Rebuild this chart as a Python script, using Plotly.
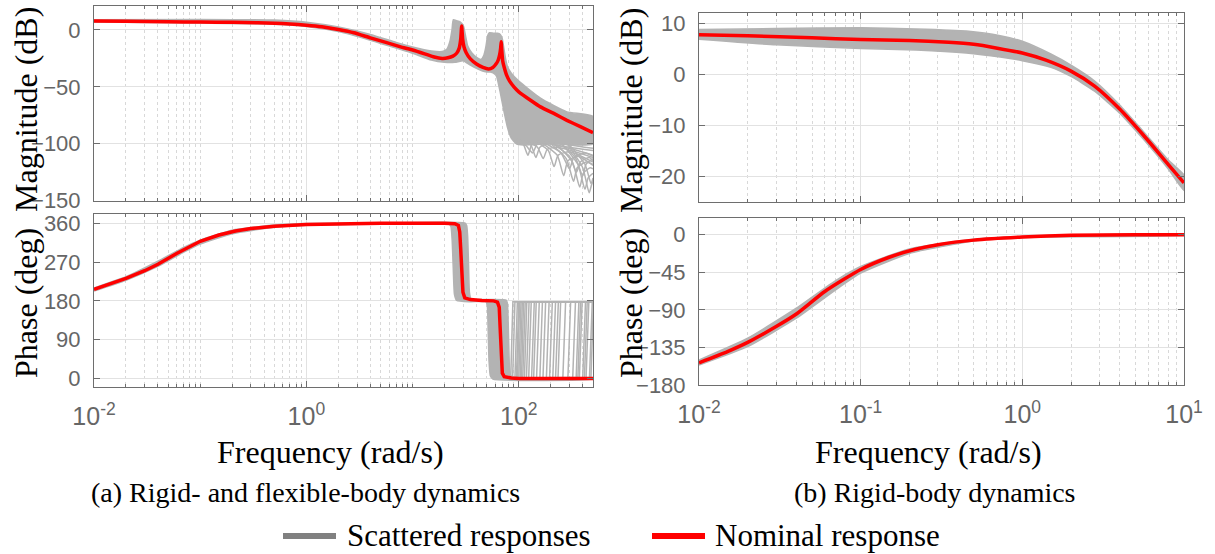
import math
import plotly.graph_objects as go

W, H = 1215, 554

# ---------------- data ----------------
# (a) rigid- and flexible-body dynamics : nominal response
a_nom_mag_f = [0.01, 0.02, 0.05, 0.1, 0.2, 0.35, 0.5, 0.7, 1.0, 1.4, 2.0, 2.8, 4.0, 5.6, 8.0,
               10, 13, 16, 19, 21.5, 24, 26, 27.5, 28.4, 29, 29.6, 30.5, 32, 35, 40, 46, 52,
               57, 61, 64, 66, 67.5, 68.3, 69.2, 70.5, 73, 77, 82, 90, 100, 130, 160, 220,
               284, 380, 500]
a_nom_mag = [7.8, 7.6, 7.2, 6.85, 6.65, 6.3, 5.9, 5.15, 4.2, 2.8, 0.4, -2.5, -7, -11, -15.3,
             -17.6, -21, -23.8, -25, -24.5, -23, -20.5, -16, -8, 3.5, -8, -15, -20, -25.5, -30,
             -33, -34.4, -33, -30, -26.5, -22, -16, -10.3, -18, -27, -33, -40, -45, -50, -54.4,
             -62, -67.6, -74, -79.4, -85, -90.2]
a_nom_ph_f = [0.01, 0.02, 0.03, 0.04, 0.06, 0.1, 0.15, 0.215, 0.3, 0.5, 1, 2, 5, 20, 25, 27,
              27.8, 28.4, 28.8, 29.2, 29.8, 31, 35, 45, 58, 63, 65.5, 66.7, 67.5, 68.5, 70,
              73, 85, 100, 500]
a_nom_ph = [206.6, 232, 250, 265, 290, 318.4, 333, 342.2, 348, 353.5, 357.2, 359.2, 360, 360,
            359, 355, 340, 300, 270, 230, 200, 187, 183, 181, 180, 177, 165, 120, 80, 35, 12,
            4, 1, 0, 0]

# (a) scattered responses: envelope of the dense band
a_sc_mag_up_f = [0.01, 0.1, 0.5, 1, 2, 4, 7, 10, 15, 19, 21, 22.5, 23.5, 24.2, 26, 28, 30,
                 31.5, 33, 36, 40, 44, 47, 49, 51, 53, 58, 63, 67, 70, 72, 75, 78, 85, 100,
                 160, 284, 500]
a_sc_mag_up = [9.0, 9.2, 8.6, 6.8, 2.5, -4, -11, -15, -18.5, -19, -17, -10, 0, 9, 8, 7, 4,
               -5, -14, -20, -24, -26, -22, -15, -5, -2.5, -3, -3, -4, -8, -15, -25, -32,
               -38, -45, -60, -72, -76]
a_sc_mag_lo_f = [0.01, 0.1, 0.5, 1, 2, 4, 7, 10, 15, 20, 25, 30, 35, 45, 50, 54, 60, 62, 67,
                 72, 78, 85, 95, 110, 200, 500]
a_sc_mag_lo = [7.0, 6.0, 5.0, 3.0, -1.5, -9, -16, -20.5, -26.5, -28.5, -28.5, -27, -31, -36,
               -37, -37, -39, -41, -55, -70, -85, -95, -100, -101, -100, -100]
# (a) scattered responses spreading below the band
a_fan_f = [
    [95, 110, 122, 132, 150, 250, 500],
    [110, 130, 145, 158, 190, 300, 500],
    [120, 150, 170, 185, 230, 500],
    [150, 190, 215, 235, 300, 500],
    [170, 230, 265, 290, 360, 500],
    [200, 280, 328, 355, 430, 500],
    [230, 320, 375, 405, 470, 500],
    [260, 360, 420, 450, 500],
    [290, 400, 460, 485, 500],
    [250, 340, 400, 430, 500],
    [300, 420, 480, 500],
    [180, 250, 300, 330, 420, 500],
    [100, 118, 135, 150, 200, 500],
    [210, 300, 350, 380, 460, 500],
]
a_fan_mag = [
    [-95, -100, -110, -101, -98, -102, -106],
    [-97, -101, -112, -103, -100, -104, -110],
    [-98, -103, -113, -105, -103, -112],
    [-99, -106, -120, -110, -107, -116],
    [-100, -110, -128, -115, -111, -119],
    [-100, -113, -133, -121, -116, -118],
    [-101, -116, -138, -126, -121, -122],
    [-101, -118, -140, -130, -126],
    [-101, -121, -143, -136, -133],
    [-100, -112, -128, -118, -113],
    [-101, -118, -135, -130],
    [-100, -108, -122, -112, -108, -111],
    [-96, -102, -108, -100, -99, -104],
    [-100, -111, -125, -116, -112, -115],
]
a_sc_ph_up_f = [0.01, 0.02, 0.04, 0.07, 0.1, 0.2, 0.5, 1, 5, 31, 32.3, 33, 33.6, 34.3, 35.5,
                45, 76, 78, 79.5, 81, 83, 90, 100, 500]
a_sc_ph_up = [210, 236, 272, 304, 321, 344, 356, 359.5, 361, 361, 355, 330, 270, 200, 184, 183,
              182, 175, 130, 50, 8, 1.5, 1, 1]
a_sc_ph_lo_f = [0.01, 0.02, 0.04, 0.07, 0.1, 0.2, 0.5, 1, 5, 22, 23, 23.6, 24.2, 24.8, 26, 35,
                49, 50.5, 51.5, 52.5, 54, 57, 500]
a_sc_ph_lo = [203, 228, 260, 293, 312, 336, 351, 355.5, 359, 359, 352, 320, 250, 195, 181, 178,
              178, 170, 110, 40, 6, -1.5, -1.5]
# (a) phase of scattered responses jumping back to 180 deg (start / end of each rise)
a_comb_lo = [84, 87.5, 92, 95, 97, 100, 103, 106, 109, 113, 118, 124, 132, 138, 147, 158, 169,
             182, 195, 209, 222, 234, 260, 290, 322, 347, 360, 372, 400, 415, 430, 463, 478]
a_comb_hi = [88, 92, 97, 100, 102, 105, 108, 111, 115, 119, 125, 131, 140, 146, 156, 167, 179,
             193, 207, 222, 236, 248, 276, 308, 342, 368, 382, 395, 425, 441, 457, 492, 505]

# (b) rigid-body dynamics
b_nom_mag_f = [0.01, 0.02, 0.05, 0.1, 0.2, 0.35, 0.5, 0.7, 1.0, 1.4, 2.0, 2.8, 4.0, 5.6, 8.0, 10]
b_nom_mag = [7.8, 7.6, 7.2, 6.85, 6.65, 6.3, 5.9, 5.15, 4.2, 2.8, 0.65, -2.3, -6.8, -11.9,
             -17.7, -21.3]
b_sc_mag_up_f = [0.01, 0.03, 0.1, 0.22, 0.45, 0.73, 1.0, 1.5, 2.0, 2.8, 4.0, 5.6, 8.0, 10]
b_sc_mag_up = [8.8, 9.0, 9.15, 8.9, 8.5, 7.6, 6.5, 4.0, 1.8, -1.3, -6.0, -11.2, -16.8, -19.8]
b_sc_mag_lo_f = [0.01, 0.03, 0.1, 0.22, 0.45, 0.73, 1.0, 1.5, 2.0, 2.8, 4.0, 5.6, 8.0, 10]
b_sc_mag_lo = [6.9, 5.8, 5.1, 4.8, 4.2, 3.4, 2.7, 1.4, -0.4, -3.3, -7.6, -12.7, -18.6, -22.8]
b_nom_ph_f = [0.01, 0.015, 0.02, 0.03, 0.04, 0.06, 0.1, 0.15, 0.215, 0.3, 0.5, 1, 2, 5, 10]
b_nom_ph = [-153.4, -140, -129, -110, -95, -68, -41.6, -27, -17.8, -12, -6.5, -2.8, -0.8, -0.1, 0]
b_sc_ph_up_f = [0.01, 0.02, 0.04, 0.07, 0.1, 0.2, 0.5, 1, 10]
b_sc_ph_up = [-150, -124, -88, -55, -38, -17, -5.5, -2.3, 0.5]
b_sc_ph_lo_f = [0.01, 0.02, 0.04, 0.07, 0.1, 0.2, 0.5, 1, 10]
b_sc_ph_lo = [-156, -134, -100, -66, -46, -22.5, -7.5, -3.3, -0.5]

# tick labels
a_xticks = [0.01, 1, 100]
a_xticktext = ["10<sup>-2</sup>", "10<sup>0</sup>", "10<sup>2</sup>"]
b_xticks = [0.01, 0.1, 1, 10]
b_xticktext = ["10<sup>-2</sup>", "10<sup>-1</sup>", "10<sup>0</sup>", "10<sup>1</sup>"]
a_mag_ticks = [-150, -100, -50, 0]
a_ph_ticks = [0, 90, 180, 270, 360]
b_mag_ticks = [-20, -10, 0, 10]
b_ph_ticks = [-180, -135, -90, -45, 0]

# ---------------- styling ----------------
GRAY = "#b3b3b3"
RED = "#ff0000"
AX = "#6e6e6e"
SERIF = "Liberation Serif"
SANS = "Liberation Sans"


def px(x):
    return x / W


def py(y):
    return 1 - y / H


fig = go.Figure()


def band(xu, yu, xl, yl, xa, ya):
    fig.add_trace(go.Scatter(x=xu + xl[::-1], y=yu + yl[::-1], mode="lines", fill="toself",
                             fillcolor=GRAY, line=dict(color=GRAY, width=1.5, shape="spline",
                                                        smoothing=0.5),
                             xaxis=xa, yaxis=ya, showlegend=False, hoverinfo="skip"))


def line(x, y, xa, ya, color, width, shape="spline", smoothing=0.6):
    fig.add_trace(go.Scatter(x=x, y=y, mode="lines",
                             line=dict(color=color, width=width, shape=shape,
                                       smoothing=smoothing),
                             xaxis=xa, yaxis=ya, showlegend=False, hoverinfo="skip"))


# (a) magnitude
band(a_sc_mag_up_f, a_sc_mag_up, a_sc_mag_lo_f, a_sc_mag_lo, "x", "y")
for ff, mm in zip(a_fan_f, a_fan_mag):
    line(ff, mm, "x", "y", GRAY, 1.5)
line(a_nom_mag_f, a_nom_mag, "x", "y", RED, 3.5, smoothing=0.4)

# (a) phase
band(a_sc_ph_up_f, a_sc_ph_up, a_sc_ph_lo_f, a_sc_ph_lo, "x2", "y2")
for lo, hi in zip(a_comb_lo, a_comb_hi):
    line([75, lo, hi, 510], [0, 0, 178, 178], "x2", "y2", GRAY, 1.5, shape="linear")
line(a_nom_ph_f, a_nom_ph, "x2", "y2", RED, 3.5, shape="linear")

# (b) magnitude and phase
band(b_sc_mag_up_f, b_sc_mag_up, b_sc_mag_lo_f, b_sc_mag_lo, "x3", "y3")
line(b_nom_mag_f, b_nom_mag, "x3", "y3", RED, 3.5)
band(b_sc_ph_up_f, b_sc_ph_up, b_sc_ph_lo_f, b_sc_ph_lo, "x4", "y4")
line(b_nom_ph_f, b_nom_ph, "x4", "y4", RED, 3.5)


def minor_vals(lo_exp, hi_exp, majors):
    vals = []
    for e in range(lo_exp, hi_exp + 1):
        for k in range(1, 10):
            v = k * 10 ** e
            if all(abs(v - m) > 1e-12 for m in majors):
                vals.append(v)
    return vals


common = dict(showline=True, linecolor=AX, linewidth=1, mirror="allticks", ticks="inside",
              ticklen=6, tickcolor=AX, showgrid=True, gridcolor="#e2e2e2", gridwidth=1,
              zeroline=False, automargin=False,
              tickfont=dict(family=SANS, size=22, color="#666666"))


def xaxis(domain, rng, tv, tt, anchor, labels):
    d = dict(common)
    d.update(domain=domain, type="log", range=rng, tickvals=tv, ticktext=tt, anchor=anchor,
             showticklabels=labels, ticklabelstandoff=7,
             tickfont=dict(family=SANS, size=25, color="#666666"),
             minor=dict(tickvals=minor_vals(-2, 2, tv), ticks="inside", ticklen=3,
                        tickcolor=AX, showgrid=True, gridcolor="#d8d8d8", griddash="dot",
                        gridwidth=1))
    return d


def yaxis(domain, rng, tv, anchor):
    d = dict(common)
    d.update(domain=domain, range=rng, tickvals=tv, anchor=anchor, ticklabelstandoff=8)
    return d


xa_dom = [px(94), px(593)]
xb_dom = [px(699), px(1184)]
a_rng = [math.log10(0.01), math.log10(500)]
b_rng = [math.log10(0.01), math.log10(10)]

fig.update_layout(
    width=W, height=H, margin=dict(l=0, r=0, t=0, b=0, autoexpand=False),
    paper_bgcolor="white", plot_bgcolor="white", showlegend=False,
    xaxis=xaxis(xa_dom, a_rng, a_xticks, a_xticktext, "y", False),
    yaxis=yaxis([py(200.7), py(6)], [-150, 21], a_mag_ticks, "x"),
    xaxis2=xaxis(xa_dom, a_rng, a_xticks, a_xticktext, "y2", True),
    yaxis2=yaxis([py(387), py(214.3)], [-20, 381], a_ph_ticks, "x2"),
    xaxis3=xaxis(xb_dom, b_rng, b_xticks, b_xticktext, "y3", False),
    yaxis3=yaxis([py(201.7), py(13.3)], [-25, 12], b_mag_ticks, "x3"),
    xaxis4=xaxis(xb_dom, b_rng, b_xticks, b_xticktext, "y4", True),
    yaxis4=yaxis([py(385), py(218)], [-180, 20], b_ph_ticks, "x4"),
)

ann = []


def text(t, x, y, size, angle=0, xanchor="center"):
    ann.append(dict(text=t, x=px(x), y=py(y), xref="paper", yref="paper", showarrow=False,
                    textangle=angle, xanchor=xanchor, yanchor="middle",
                    font=dict(family=SERIF, size=size, color="black")))


text("Magnitude (dB)", 26, 110, 32, -90)
text("Phase (deg)", 26, 303, 32, -90)
text("Magnitude (dB)", 631, 111, 32, -90)
text("Phase (deg)", 631, 303, 32, -90)
text("Frequency (rad/s)", 330, 452, 32)
text("Frequency (rad/s)", 928, 452, 32)
text("(a) Rigid- and flexible-body dynamics", 306, 492, 28)
text("(b) Rigid-body dynamics", 935, 492, 28)
text("Scattered responses", 345, 535, 31, xanchor="left")
text("Nominal response", 713, 535, 31, xanchor="left")
fig.update_layout(annotations=ann)

fig.add_shape(type="line", xref="paper", yref="paper", x0=px(283), x1=px(336), y0=py(536),
              y1=py(536), line=dict(color="#808080", width=6))
fig.add_shape(type="line", xref="paper", yref="paper", x0=px(652), x1=px(705), y0=py(536),
              y1=py(536), line=dict(color=RED, width=6))

fig.write_html("out.html")
